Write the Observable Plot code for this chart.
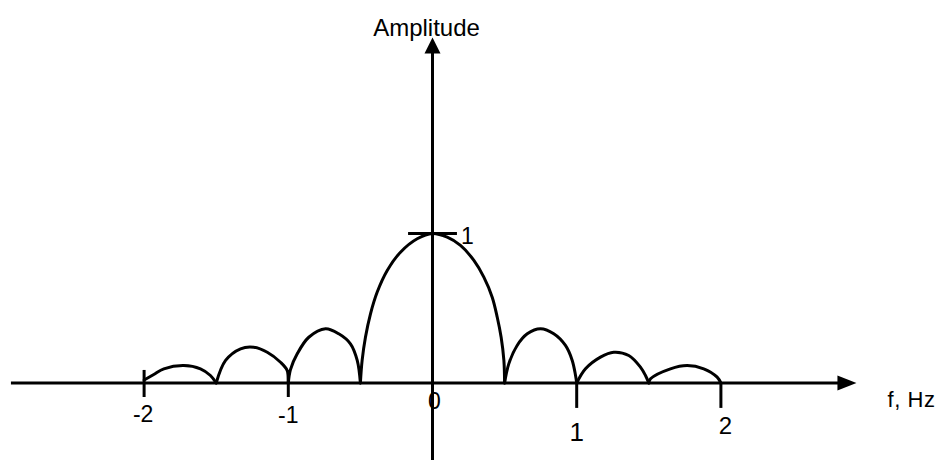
<!DOCTYPE html>
<html>
<head>
<meta charset="utf-8">
<script src="https://cdn.jsdelivr.net/npm/d3@7"></script>
<script src="https://cdn.jsdelivr.net/npm/@observablehq/plot@0.6"></script>
<style>
  html, body { margin: 0; padding: 0; background: #fff; }
  svg { display: block; }
</style>
</head>
<body>
<div id="chart"></div>
<script>
// ---- Data (frequency f in Hz, amplitude) ----
const lobeL3F = [-2.0, -1.933, -1.863, -1.725, -1.609, -1.540, -1.5];
const lobeL3A = [0.02, 0.057, 0.095, 0.117, 0.095, 0.050, 0];

const lobeL2F = [-1.5, -1.435, -1.331, -1.239, -1.146, -1.054, -1.008, -1.0];
const lobeL2A = [0, 0.151, 0.229, 0.239, 0.206, 0.139, 0.084, 0];

const lobeL1F = [-1.0, -0.985, -0.938, -0.858, -0.742, -0.650, -0.569, -0.522, -0.5];
const lobeL1A = [0, 0.09, 0.195, 0.306, 0.363, 0.329, 0.262, 0.151, 0];

const mainLobeF = [-0.5, -0.488, -0.465, -0.430, -0.384, -0.314, -0.222, -0.106, 0,
                   0.102, 0.194, 0.287, 0.356, 0.414, 0.449, 0.476, 0.495, 0.5];
const mainLobeA = [0, 0.151, 0.306, 0.463, 0.607, 0.753, 0.875, 0.965, 1.0,
                   0.975, 0.920, 0.820, 0.708, 0.574, 0.440, 0.306, 0.151, 0];

const lobeR1F = [0.5, 0.529, 0.587, 0.657, 0.749, 0.841, 0.922, 0.969, 0.992, 1.0];
const lobeR1A = [0, 0.128, 0.251, 0.329, 0.363, 0.329, 0.251, 0.151, 0.05, 0];

const lobeR2F = [1.0, 1.061, 1.165, 1.257, 1.361, 1.442, 1.477, 1.5];
const lobeR2A = [0, 0.095, 0.173, 0.206, 0.184, 0.106, 0.05, 0];

const lobeR3F = [1.5, 1.512, 1.650, 1.766, 1.881, 1.974, 2.0];
const lobeR3A = [0, 0.028, 0.095, 0.117, 0.095, 0.039, 0];

const xTickValues = [-2, -1, 0, 1, 2];
const xTickLabels = ["-2", "-1", "0", "1", "2"];
const yTickValues = [1];
const yTickLabels = ["1"];
const xAxisTitle = "f, Hz";
const yAxisTitle = "Amplitude";

// axis extents (data units)
const xAxisStart = -2.92, xAxisEnd = 2.94;
const yAxisStart = -0.52, yAxisEnd = 2.311;

// ---- Build table ----
const lobes = [
  [lobeL3F, lobeL3A], [lobeL2F, lobeL2A], [lobeL1F, lobeL1A],
  [mainLobeF, mainLobeA],
  [lobeR1F, lobeR1A], [lobeR2F, lobeR2A], [lobeR3F, lobeR3A]
];
const curve = lobes.flatMap(([F, A], k) => F.map((f, j) => ({f, a: A[j], lobe: k})));

const arrowRight = {draw(ctx) { ctx.moveTo(0, 0); ctx.lineTo(-19, 7.5); ctx.lineTo(-19, -7.5); ctx.closePath(); }};
const arrowUp = {draw(ctx) { ctx.moveTo(0, 0); ctx.lineTo(8, 16); ctx.lineTo(-8, 16); ctx.closePath(); }};

const FONT = "Liberation Sans, Arial, Helvetica, sans-serif";
const SW = 3;

function tickLabel(i, dx, dy, size) {
  return Plot.text([i], {
    x: d => xTickValues[d], y: () => 0, text: d => xTickLabels[d],
    dx, dy, fontSize: size, lineAnchor: "bottom", textAnchor: "middle", fill: "black"
  });
}

const chart = Plot.plot({
  width: 943,
  height: 460,
  margin: 0,
  style: {fontFamily: FONT, background: "white", color: "black"},
  x: {domain: [-432 / 144.2, 511 / 144.2], axis: null},
  y: {domain: [-77.5 / 149.5, 382.5 / 149.5], axis: null},
  marks: [
    // axes
    Plot.ruleY([0], {x1: xAxisStart, x2: xAxisEnd - 0.12, stroke: "black", strokeWidth: SW}),
    Plot.ruleX([0], {y1: yAxisStart, y2: yAxisEnd - 0.1, stroke: "black", strokeWidth: SW}),
    Plot.dot([xAxisEnd], {x: d => d, y: () => 0, symbol: arrowRight, r: 5, fill: "black", stroke: "none"}),
    Plot.dot([yAxisEnd], {x: () => 0, y: d => d, symbol: arrowUp, r: 5, fill: "black", stroke: "none"}),
    // ticks
    Plot.ruleX(xTickValues.filter(v => v < 0), {y1: 0.084, y2: -0.097, stroke: "black", strokeWidth: SW}),
    Plot.ruleX(xTickValues.filter(v => v > 0), {y1: 0, y2: -0.17, stroke: "black", strokeWidth: SW}),
    Plot.ruleY(yTickValues, {x1: -0.166, x2: 0.173, stroke: "black", strokeWidth: SW}),
    // curve
    Plot.line(curve, {x: "f", y: "a", z: "lobe", stroke: "black", strokeWidth: SW,
      curve: "catmull-rom", strokeLinejoin: "round", strokeLinecap: "round"}),
    // tick labels
    tickLabel(0, -1, 39, 23),
    tickLabel(1, 0, 39.5, 23),
    tickLabel(2, 2, 26, 23),
    tickLabel(3, 0, 58, 26),
    tickLabel(4, 4.6, 51, 24),
    Plot.text(yTickLabels, {x: () => 0, y: (d, i) => yTickValues[i], text: d => d,
      dx: 28.5, dy: 10.5, fontSize: 23, lineAnchor: "bottom", textAnchor: "start", fill: "black"}),
    // axis titles
    Plot.text([yAxisTitle], {x: () => 0, y: () => yAxisEnd, text: d => d,
      dx: -6, dy: -2, fontSize: 24, lineAnchor: "bottom", textAnchor: "middle", fill: "black"}),
    Plot.text([xAxisTitle], {x: () => xAxisEnd, y: () => 0, text: d => d,
      dx: 31, dy: 24, fontSize: 22, lineAnchor: "bottom", textAnchor: "start", fill: "black"})
  ]
});

d3.select(chart).selectAll("text")
  .filter(function() { return this.textContent === xAxisTitle; })
  .attr("letter-spacing", 0.6);

document.getElementById("chart").appendChild(chart);
</script>
</body>
</html>
